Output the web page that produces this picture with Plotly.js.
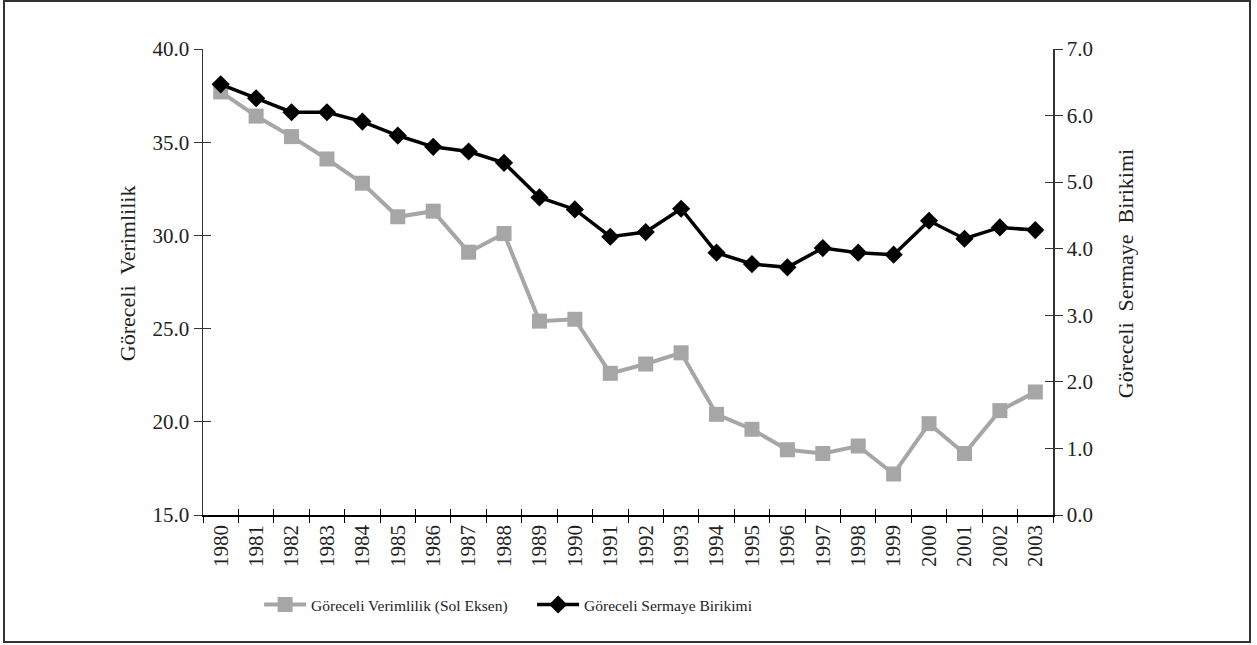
<!DOCTYPE html>
<html>
<head>
<meta charset="utf-8">
<script src="https://cdn.plot.ly/plotly-3.0.1.min.js"></script>
<style>
html,body{margin:0;padding:0;background:#fff;}
#frame{position:absolute;left:3px;top:0px;width:1248px;height:643px;border:2px solid #333;box-sizing:border-box;}
#chart{position:absolute;left:0;top:0;width:1257px;height:645px;}
</style>
</head>
<body>
<div id="frame"></div>
<div id="chart"></div>
<script>
const years = ['1980','1981','1982','1983','1984','1985','1986','1987','1988','1989','1990','1991','1992','1993','1994','1995','1996','1997','1998','1999','2000','2001','2002','2003'];
const verimlilik = [37.7,36.4,35.3,34.1,32.8,31.0,31.3,29.1,30.1,25.4,25.5,22.6,23.1,23.7,20.4,19.6,18.5,18.3,18.7,17.2,19.9,18.3,20.6,21.6];
const sermaye = [6.47,6.26,6.05,6.05,5.91,5.70,5.53,5.46,5.29,4.77,4.59,4.18,4.25,4.60,3.94,3.77,3.72,4.01,3.94,3.91,4.42,4.15,4.32,4.28];
const leftTicks = [15,20,25,30,35,40];
const rightTicks = [0,1,2,3,4,5,6,7];
const nameLeft = 'Göreceli Verimlilik (Sol Eksen)';
const nameRight = 'Göreceli Sermaye Birikimi';
const titleLeft = 'Göreceli  Verimlilik';
const titleRight = 'Göreceli  Sermaye  Birikimi';

const FONT = '"Liberation Serif", "Times New Roman", serif';
const axisCol = '#333';
const textCol = '#222';

const traces = [
  {x: years, y: verimlilik, name: nameLeft, type: 'scatter', mode: 'lines+markers',
   line: {color: '#a6a6a6', width: 4}, marker: {symbol: 'square', size: 15, color: '#a6a6a6'},
   xaxis: 'x', yaxis: 'y', hoverinfo: 'x+y'},
  {x: years, y: sermaye, name: nameRight, type: 'scatter', mode: 'lines+markers',
   line: {color: '#000', width: 3.5}, marker: {symbol: 'diamond', size: 14, color: '#000'},
   xaxis: 'x', yaxis: 'y2', hoverinfo: 'x+y'},
  {x: years, y: verimlilik, xaxis: 'x2', yaxis: 'y3', mode: 'markers', marker: {opacity: 0},
   showlegend: false, hoverinfo: 'skip'},
  {x: years, y: sermaye, xaxis: 'x2', yaxis: 'y4', mode: 'markers', marker: {opacity: 0},
   showlegend: false, hoverinfo: 'skip'}
];

const layout = {
  width: 1257, height: 645,
  margin: {l: 203, r: 204, t: 49, b: 130},
  paper_bgcolor: 'rgba(0,0,0,0)', plot_bgcolor: 'rgba(0,0,0,0)',
  font: {family: FONT, size: 20, color: textCol},
  showlegend: true,
  legend: {orientation: 'h', x: 0.066, xanchor: 'left', y: -0.193, yanchor: 'middle',
           font: {family: FONT, size: 15.5, color: textCol}, entrywidth: 216, entrywidthmode: 'pixels',
           itemwidth: 42, traceorder: 'normal'},
  xaxis: {type: 'category', categoryorder: 'array', categoryarray: years,
          range: [-0.5, 23.5], tickson: 'boundaries', ticks: 'outside', ticklen: 6, tickcolor: '#000',
          tickangle: -90, showline: true, linecolor: '#000', linewidth: 1.5, showgrid: false,
          zeroline: false, tickfont: {family: FONT, size: 21, color: textCol}},
  xaxis2: {type: 'category', categoryorder: 'array', categoryarray: years, overlaying: 'x',
           range: [-0.5, 23.5], tickson: 'boundaries', ticks: 'inside', ticklen: 6, tickcolor: '#000',
           showticklabels: false, showline: false, showgrid: false, zeroline: false, side: 'bottom'},
  yaxis: {range: [15, 40], tickvals: leftTicks, tickformat: '.1f', ticks: 'outside', ticklen: 8,
          tickcolor: axisCol, showline: true, linecolor: axisCol, linewidth: 1.5, showgrid: false,
          zeroline: false, tickfont: {family: FONT, size: 21, color: textCol}},
  yaxis2: {range: [0, 7], tickvals: rightTicks, tickformat: '.1f', overlaying: 'y', side: 'right',
           ticks: 'outside', ticklen: 8, tickcolor: axisCol, showline: true, linecolor: axisCol,
           linewidth: 1.5, showgrid: false, zeroline: false, tickfont: {family: FONT, size: 21, color: textCol}},
  yaxis3: {range: [15, 40], tickvals: leftTicks, overlaying: 'y', side: 'left', ticks: 'inside',
           ticklen: 8, tickcolor: axisCol, showticklabels: false, showline: false, showgrid: false,
           zeroline: false},
  yaxis4: {range: [0, 7], tickvals: rightTicks, overlaying: 'y', side: 'right', ticks: 'inside',
           ticklen: 8, tickcolor: axisCol, showticklabels: false, showline: false, showgrid: false,
           zeroline: false},
  annotations: [
    {text: titleLeft, xref: 'paper', yref: 'paper', x: -0.0894, y: 0.519, xanchor: 'center', yanchor: 'middle',
     textangle: -90, showarrow: false, font: {family: FONT, size: 22, color: textCol}},
    {text: titleRight, xref: 'paper', yref: 'paper', x: 1.0847, y: 0.519, xanchor: 'center', yanchor: 'middle',
     textangle: -90, showarrow: false, font: {family: FONT, size: 22, color: textCol}}
  ]
};

Plotly.newPlot('chart', traces, layout, {displayModeBar: false, staticPlot: true});
</script>
</body>
</html>
